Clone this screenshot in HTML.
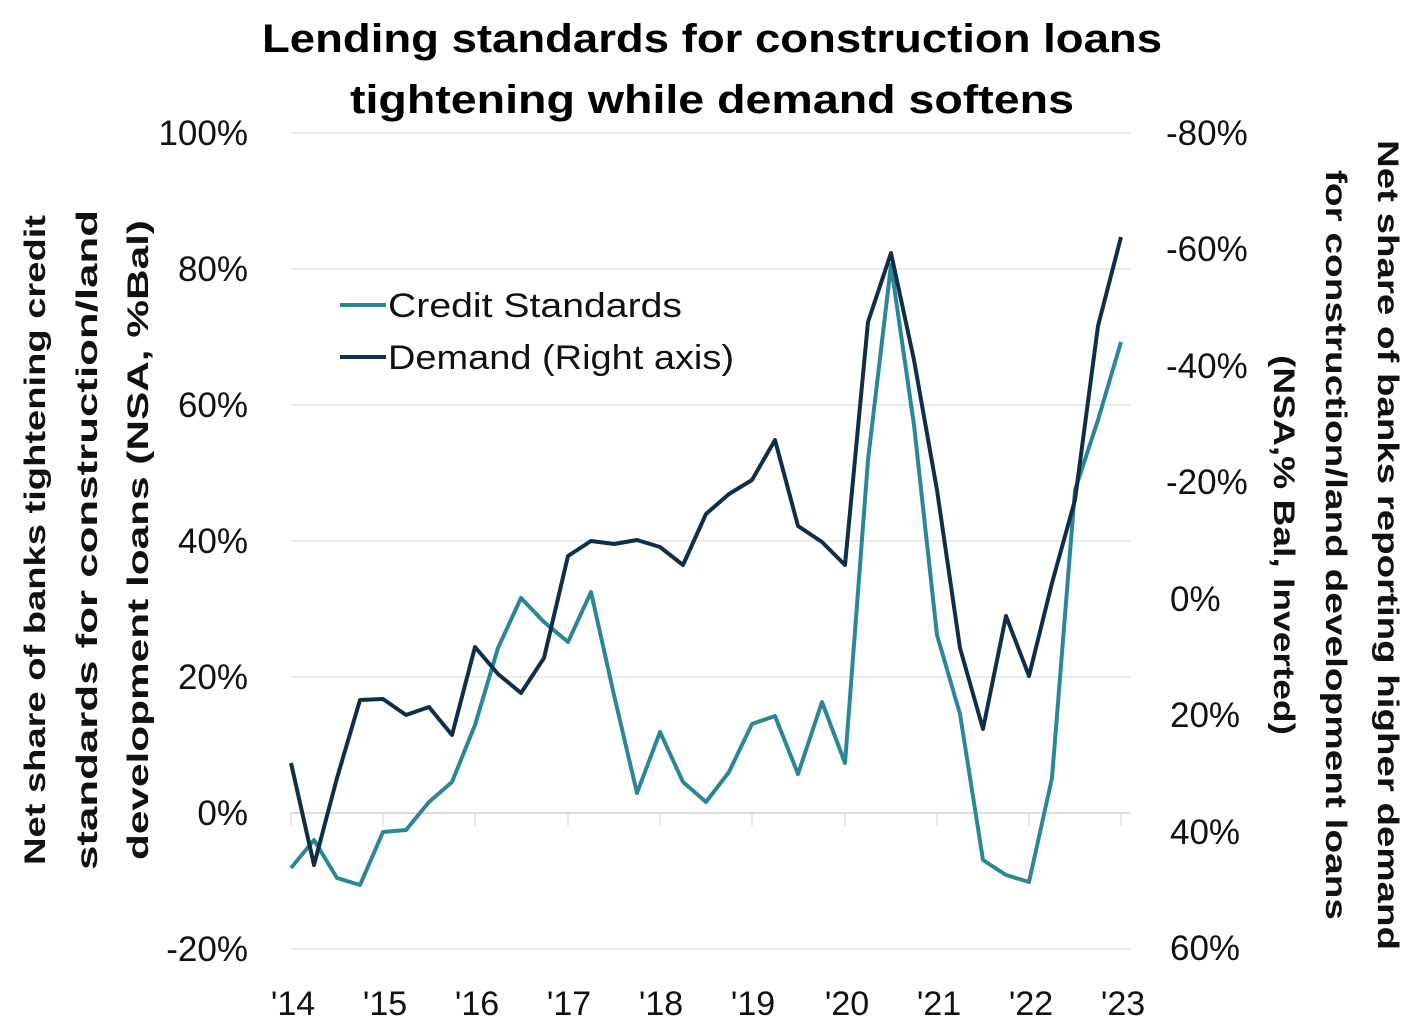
<!DOCTYPE html>
<html><head><meta charset="utf-8"><style>
body{margin:0;background:#fff;}
svg text{font-family:"Liberation Sans",sans-serif;}
</style></head><body>
<svg width="1421" height="1031" viewBox="0 0 1421 1031" xmlns="http://www.w3.org/2000/svg">
<text x="712" y="52" text-anchor="middle" font-size="40" font-weight="bold" textLength="900" lengthAdjust="spacingAndGlyphs">Lending standards for construction loans</text>
<text x="712" y="113" text-anchor="middle" font-size="40" font-weight="bold" textLength="724" lengthAdjust="spacingAndGlyphs">tightening while demand softens</text>
<g stroke="#e3e3e3" stroke-width="1.5">
<line x1="291" x2="1130" y1="133" y2="133"/><line x1="291" x2="1130" y1="269" y2="269"/>
<line x1="291" x2="1130" y1="405" y2="405"/><line x1="291" x2="1130" y1="541" y2="541"/>
<line x1="291" x2="1130" y1="677" y2="677"/><line x1="291" x2="1130" y1="949" y2="949"/>
<line x1="291" x2="1130" y1="813" y2="813" stroke="#d0d0d0"/>
<line x1="291" x2="291" y1="813" y2="826"/><line x1="383" x2="383" y1="813" y2="826"/>
<line x1="475" x2="475" y1="813" y2="826"/><line x1="568" x2="568" y1="813" y2="826"/>
<line x1="660" x2="660" y1="813" y2="826"/><line x1="752" x2="752" y1="813" y2="826"/>
<line x1="845" x2="845" y1="813" y2="826"/><line x1="937" x2="937" y1="813" y2="826"/>
<line x1="1029" x2="1029" y1="813" y2="826"/><line x1="1121" x2="1121" y1="813" y2="826"/>
</g>
<g font-size="35" text-anchor="end" fill="#111">
<text x="248" y="145">100%</text><text x="248" y="281">80%</text><text x="248" y="417">60%</text>
<text x="248" y="553">40%</text><text x="248" y="689">20%</text><text x="248" y="825">0%</text><text x="248" y="961">-20%</text>
</g>
<g font-size="35" text-anchor="start" fill="#111">
<text x="1166" y="145">-80%</text><text x="1166" y="261">-60%</text><text x="1166" y="378">-40%</text>
<text x="1166" y="494">-20%</text><text x="1170" y="611">0%</text><text x="1170" y="727">20%</text>
<text x="1170" y="844">40%</text><text x="1170" y="960">60%</text>
</g>
<g font-size="34" text-anchor="middle" fill="#111">
<text x="293" y="1015">'14</text><text x="385" y="1015">'15</text><text x="477" y="1015">'16</text>
<text x="569" y="1015">'17</text><text x="661" y="1015">'18</text><text x="753" y="1015">'19</text>
<text x="847" y="1015">'20</text><text x="939" y="1015">'21</text><text x="1031" y="1015">'22</text><text x="1123" y="1015">'23</text>
</g>
<g font-size="30" font-weight="bold" text-anchor="middle" fill="#111" transform="translate(85,540) rotate(-90)">
<text x="0" y="-40" textLength="650" lengthAdjust="spacingAndGlyphs">Net share of banks tightening credit</text>
<text x="0" y="12" textLength="660" lengthAdjust="spacingAndGlyphs">standards for construction/land</text>
<text x="0" y="63" textLength="640" lengthAdjust="spacingAndGlyphs">development loans (NSA, %Bal)</text>
</g>
<g font-size="30" font-weight="bold" text-anchor="middle" fill="#111" transform="translate(1338,545) rotate(90)">
<text x="0" y="-40" textLength="810" lengthAdjust="spacingAndGlyphs">Net share of banks reporting higher demand</text>
<text x="0" y="12" textLength="750" lengthAdjust="spacingAndGlyphs">for construction/land development loans</text>
<text x="0" y="64" textLength="380" lengthAdjust="spacingAndGlyphs">(NSA,% Bal, Inverted)</text>
</g>
<polyline fill="none" stroke="#2a8797" stroke-width="4" stroke-linejoin="round" points="291,868 314,840 337,878 360,885 383,832 406,830 429,802 452,782 475,725 498,648 521,598 544,622 568,642 591,592 614,695 637,793 660,732 683,782 706,802 729,772 752,724 775,716 798,774 822,702 845,763 868,460 891,265 914,425 937,635 960,714 983,860 1006,875 1029,882 1052,778 1075,490 1098,420 1121,342"/>
<polyline fill="none" stroke="#0f2f48" stroke-width="4" stroke-linejoin="round" points="291,763 314,865 337,778 360,700 383,699 406,715 429,707 452,735 475,647 498,674 521,693 544,658 568,556 591,541 614,544 637,540 660,547 683,565 706,514 729,494 752,480 775,440 798,526 822,542 845,565 868,322 891,253 914,360 937,490 960,648 983,729 1006,616 1029,676 1052,583 1075,500 1098,326 1121,237"/>
<line x1="340" x2="386" y1="305" y2="305" stroke="#2a8797" stroke-width="4"/>
<line x1="340" x2="386" y1="357" y2="357" stroke="#0f2f48" stroke-width="4"/>
<text x="388" y="317" font-size="34" fill="#111" textLength="294" lengthAdjust="spacingAndGlyphs">Credit Standards</text>
<text x="388" y="369" font-size="34" fill="#111" textLength="346" lengthAdjust="spacingAndGlyphs">Demand (Right axis)</text>
</svg>
</body></html>
